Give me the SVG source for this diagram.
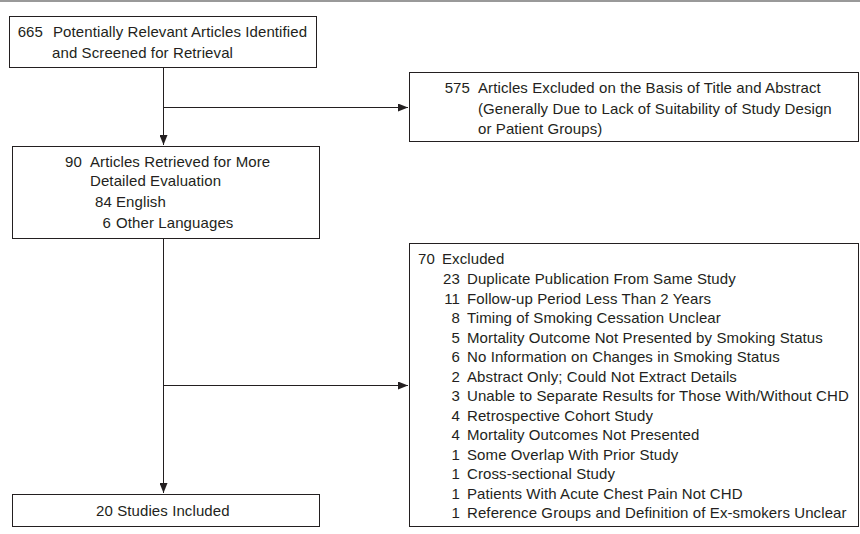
<svg xmlns="http://www.w3.org/2000/svg" width="860" height="534" viewBox="0 0 860 534">
<defs>
<style>
text{font-family:"Liberation Sans",Arial,sans-serif;font-size:15px;fill:#231f20;letter-spacing:0.1px}
.box{fill:#fff;stroke:#231f20;stroke-width:1}
.conn{fill:none;stroke:#231f20;stroke-width:1}
.r{text-anchor:end}
</style>
<marker id="ah" markerWidth="10" markerHeight="8" refX="10" refY="4" orient="auto" markerUnits="userSpaceOnUse">
<path d="M0,0 L10,4 L0,8 Z" fill="#231f20"/>
</marker>
</defs>
<rect width="860" height="534" fill="#fff"/>
<line x1="0" y1="1" x2="860" y2="1" stroke="#777" stroke-width="1.5"/>
<g id="n665">
<rect class="box" x="9.5" y="16.5" width="307" height="51"/>
<text x="43" y="37" class="r">665</text>
<text x="53" y="37">Potentially Relevant Articles Identified</text>
<text x="52" y="58">and Screened for Retrieval</text>
</g>
<g id="n575">
<rect class="box" x="409.5" y="72.5" width="449" height="69"/>
<text x="470" y="93" class="r">575</text>
<text x="478" y="93">Articles Excluded on the Basis of Title and Abstract</text>
<text x="478" y="114">(Generally Due to Lack of Suitability of Study Design</text>
<text x="478" y="134">or Patient Groups)</text>
</g>
<g id="n90">
<rect class="box" x="12.5" y="146.5" width="307" height="92"/>
<text x="82" y="167" class="r">90</text>
<text x="90" y="167">Articles Retrieved for More</text>
<text x="90" y="186">Detailed Evaluation</text>
<text x="112" y="207" class="r">84</text>
<text x="116" y="207">English</text>
<text x="111" y="228" class="r">6</text>
<text x="116" y="228">Other Languages</text>
</g>
<g id="n70">
<rect class="box" x="409.5" y="243.5" width="449" height="283"/>
<text x="435" y="264" class="r">70</text>
<text x="442" y="264">Excluded</text>
<g>
<text x="460" y="284" class="r">23</text>
<text x="460" y="303.5" class="r">11</text>
<text x="460" y="323" class="r">8</text>
<text x="460" y="342.5" class="r">5</text>
<text x="460" y="362" class="r">6</text>
<text x="460" y="381.5" class="r">2</text>
<text x="460" y="401" class="r">3</text>
<text x="460" y="420.5" class="r">4</text>
<text x="460" y="440" class="r">4</text>
<text x="460" y="459.5" class="r">1</text>
<text x="460" y="479" class="r">1</text>
<text x="460" y="498.5" class="r">1</text>
<text x="460" y="518" class="r">1</text>
</g>
<text x="467" y="284">Duplicate Publication From Same Study</text>
<text x="467" y="303.5">Follow-up Period Less Than 2 Years</text>
<text x="467" y="323">Timing of Smoking Cessation Unclear</text>
<text x="467" y="342.5">Mortality Outcome Not Presented by Smoking Status</text>
<text x="467" y="362">No Information on Changes in Smoking Status</text>
<text x="467" y="381.5">Abstract Only; Could Not Extract Details</text>
<text x="467" y="401">Unable to Separate Results for Those With/Without CHD</text>
<text x="467" y="420.5">Retrospective Cohort Study</text>
<text x="467" y="440">Mortality Outcomes Not Presented</text>
<text x="467" y="459.5">Some Overlap With Prior Study</text>
<text x="467" y="479">Cross-sectional Study</text>
<text x="467" y="498.5">Patients With Acute Chest Pain Not CHD</text>
<text x="467" y="518">Reference Groups and Definition of Ex-smokers Unclear</text>
</g>
<g id="n20">
<rect class="box" x="12.5" y="494.5" width="307" height="32"/>
<text x="96" y="516">20 Studies Included</text>
</g>
<g id="connectors">
<path class="conn" d="M163.5,67 V145" marker-end="url(#ah)"/>
<path class="conn" d="M163.5,107.5 H408" marker-end="url(#ah)"/>
<path class="conn" d="M163.5,239 V493" marker-end="url(#ah)"/>
<path class="conn" d="M163.5,385.5 H408" marker-end="url(#ah)"/>
</g>
</svg>
